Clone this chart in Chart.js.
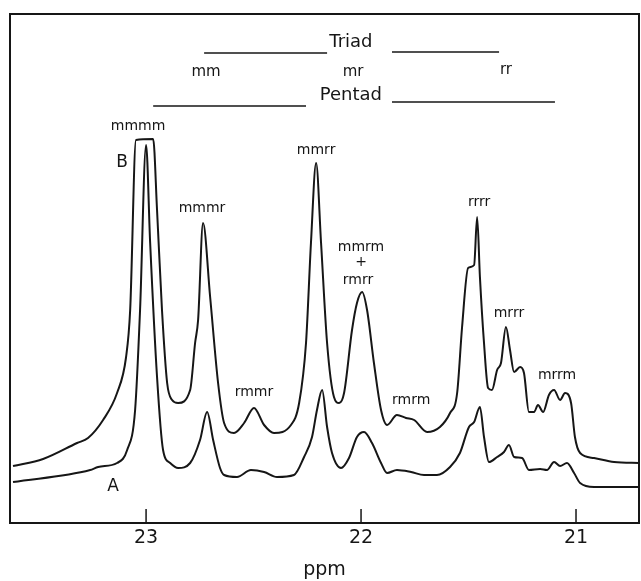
<!DOCTYPE html>
<html>
<head>
<meta charset="utf-8">
<script src="https://cdn.jsdelivr.net/npm/chart.js@4.4.0/dist/chart.umd.min.js"></script>
<style>
  html, body { margin: 0; padding: 0; background: #fff; }
  #wrap { width: 641px; height: 581px; }
</style>
</head>
<body>
<div id="wrap"><canvas id="nmr" width="641" height="581"></canvas></div>
<script>
// spectrum B (upper trace), chemical shift in ppm and pen height
const ppmB = [23.619, 23.479, 23.321, 23.270, 23.200, 23.135, 23.093, 23.074, 23.047, 22.967,
  22.949, 22.926, 22.902, 22.879, 22.851, 22.795, 22.772, 22.758, 22.735, 22.702,
  22.665, 22.637, 22.591, 22.544, 22.498, 22.451, 22.405, 22.326, 22.288, 22.256,
  22.233, 22.209, 22.186, 22.158, 22.126, 22.102, 22.079, 22.042, 22.019, 21.995,
  21.972, 21.940, 21.907, 21.879, 21.833, 21.791, 21.753, 21.693, 21.633, 21.586,
  21.553, 21.530, 21.502, 21.474, 21.460, 21.447, 21.428, 21.409, 21.391, 21.367,
  21.349, 21.326, 21.307, 21.288, 21.260, 21.242, 21.219, 21.195, 21.177, 21.153,
  21.126, 21.102, 21.074, 21.051, 21.023, 21.005, 20.981, 20.916, 20.823, 20.702];
const intB = [57, 64, 80, 85, 103, 130, 166, 213, 383, 384,
  313, 213, 140, 123, 120, 133, 180, 203, 300, 226,
  140, 100, 90, 100, 115, 98, 90, 98, 120, 180,
  280, 360, 280, 180, 126, 120, 130, 193, 220, 231,
  213, 160, 113, 98, 108, 105, 103, 91, 96, 110,
  130, 196, 255, 258, 306, 246, 180, 135, 133, 153,
  160, 196, 173, 151, 156, 150, 111, 111, 118, 111,
  128, 133, 123, 130, 120, 86, 70, 65, 61, 60];

// spectrum A (lower trace)
const ppmA = [23.619, 23.260, 23.223, 23.135, 23.088, 23.051, 23.028, 23.000, 22.981, 22.949,
  22.921, 22.888, 22.851, 22.795, 22.749, 22.716, 22.688, 22.656, 22.637, 22.577,
  22.512, 22.451, 22.391, 22.312, 22.265, 22.228, 22.205, 22.181, 22.158, 22.135,
  22.093, 22.056, 22.019, 21.986, 21.949, 21.907, 21.879, 21.833, 21.767, 21.707,
  21.647, 21.586, 21.540, 21.498, 21.474, 21.447, 21.428, 21.405, 21.367, 21.335,
  21.312, 21.288, 21.251, 21.219, 21.167, 21.135, 21.102, 21.074, 21.042, 21.009,
  20.981, 20.916, 20.702];
const intA = [41, 53, 56, 60, 73, 113, 213, 378, 280, 146,
  73, 60, 55, 60, 83, 111, 83, 55, 48, 46,
  53, 51, 46, 48, 66, 86, 113, 133, 96, 70,
  55, 65, 86, 91, 80, 60, 50, 53, 51, 48,
  48, 56, 70, 96, 101, 116, 86, 61, 66, 71,
  78, 66, 65, 53, 54, 53, 61, 57, 60, 50,
  40, 36, 36];

const tickValues = [21, 22, 23];
const ppmMin = 20.707, ppmMax = 23.633;

// peak assignments: text, ppm, height
const peakLabels = [
  ['mmmm', 23.037, 397], ['mmmr', 22.740, 315],
  ['rmmr', 22.498, 131], ['mmrr', 22.209, 373],
  ['mmrm', 22.000, 276], ['+', 22.000, 261], ['rmrr', 22.014, 243],
  ['rmrm', 21.767, 123], ['rrrr', 21.451, 321], ['mrrr', 21.312, 210],
  ['mrrm', 21.088, 148]
];
const traceNames = [['B', 23.112, 360], ['A', 23.153, 36]];
const headerTitles = [['Triad', 22.047, 481], ['Pentad', 22.047, 428]];
const triadNames = [['mm', 22.721, 451], ['mr', 22.037, 451], ['rr', 21.326, 453]];
// header rules: from ppm, to ppm, height
const headerRules = [
  [22.730, 22.158, 470], [21.856, 21.358, 471],
  [22.967, 22.256, 417], [21.856, 21.098, 421]
];

const ink = '#161616';
const fontFam = '"DejaVu Sans", sans-serif';

const toPts = (xs, ys) => xs.map((x, i) => ({ x: x, y: ys[i] }));

const decor = {
  id: 'decor',
  afterDatasetsDraw(chart) {
    const { ctx, chartArea: a, scales } = chart;
    const xs = scales.x, ys = scales.y;
    ctx.save();
    ctx.strokeStyle = ink;
    ctx.lineWidth = 2;
    // frame (left, top, right)
    ctx.beginPath();
    ctx.moveTo(a.left, a.bottom);
    ctx.lineTo(a.left, a.top);
    ctx.lineTo(a.right, a.top);
    ctx.lineTo(a.right, a.bottom);
    ctx.stroke();
    // inward tick marks
    ctx.lineWidth = 1.5;
    tickValues.forEach(v => {
      const px = xs.getPixelForValue(v);
      ctx.beginPath();
      ctx.moveTo(px, a.bottom);
      ctx.lineTo(px, a.bottom - 14);
      ctx.stroke();
    });
    // header rules
    headerRules.forEach(r => {
      const y = ys.getPixelForValue(r[2]);
      ctx.beginPath();
      ctx.moveTo(xs.getPixelForValue(r[0]), y);
      ctx.lineTo(xs.getPixelForValue(r[1]), y);
      ctx.stroke();
    });
    ctx.fillStyle = ink;
    ctx.textAlign = 'center';
    ctx.textBaseline = 'middle';
    const put = (list, size) => {
      ctx.font = size + 'px ' + fontFam;
      list.forEach(t => ctx.fillText(t[0], xs.getPixelForValue(t[1]), ys.getPixelForValue(t[2])));
    };
    put(headerTitles, 18);
    put(triadNames, 15);
    put(peakLabels, 14);
    put(traceNames, 17);
    ctx.restore();
  }
};

new Chart(document.getElementById('nmr'), {
  type: 'line',
  data: {
    datasets: [
      { label: 'B', data: toPts(ppmB, intB) },
      { label: 'A', data: toPts(ppmA, intA) }
    ]
  },
  options: {
    responsive: false,
    animation: false,
    devicePixelRatio: 1,
    layout: { padding: { left: 10, right: 2, top: 14, bottom: 0 } },
    plugins: { legend: { display: false }, tooltip: { enabled: false } },
    elements: {
      point: { radius: 0 },
      line: { borderWidth: 2, borderColor: ink, cubicInterpolationMode: 'monotone' }
    },
    scales: {
      x: {
        type: 'linear',
        reverse: true,
        min: ppmMin,
        max: ppmMax,
        afterBuildTicks: s => { s.ticks = tickValues.map(v => ({ value: v })); },
        afterFit: s => { s.height = 58; },
        grid: { display: false, drawTicks: false },
        border: { display: true, color: ink, width: 2 },
        ticks: { color: ink, font: { family: fontFam, size: 19 }, padding: 4, maxRotation: 0, autoSkip: false },
        title: { display: true, text: 'ppm', color: ink, font: { family: fontFam, size: 19 }, padding: { top: 6, bottom: 0 } }
      },
      y: { display: false, min: 0, max: 509 }
    }
  },
  plugins: [decor]
});
</script>
</body>
</html>
